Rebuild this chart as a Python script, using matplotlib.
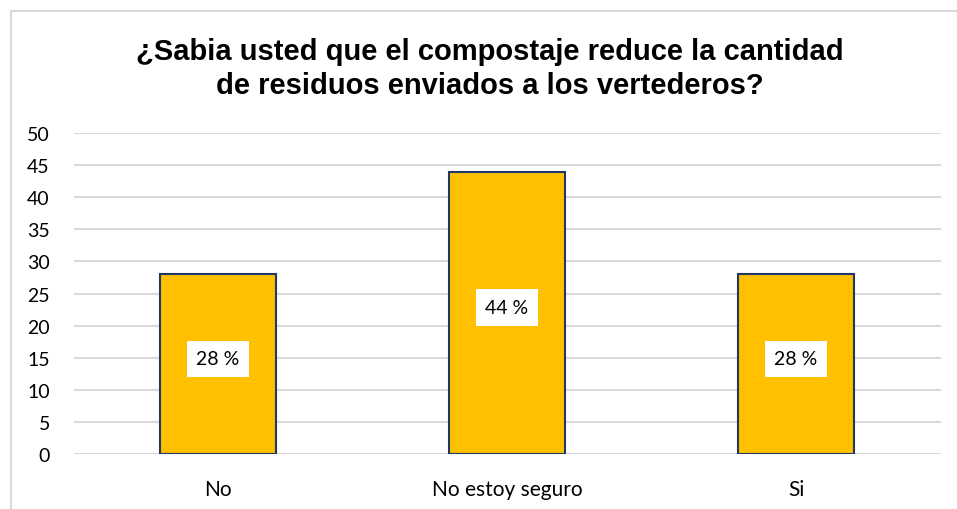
import matplotlib
matplotlib.use("Agg")
import matplotlib.pyplot as plt
from matplotlib.patches import Rectangle

categories = ["No", "No estoy seguro", "Si"]
values = [28, 44, 28]
labels = ["28 %", "44 %", "28 %"]
yticks = [0, 5, 10, 15, 20, 25, 30, 35, 40, 45, 50]
title = "¿Sabia usted que el compostaje reduce la cantidad\nde residuos enviados a los vertederos?"

fig = plt.figure(figsize=(9.57, 5.10), dpi=100)
fig.patches.append(Rectangle((11/957, -0.1), 1.2, 1 - 12/510 + 0.1, transform=fig.transFigure,
                             fill=False, edgecolor="#d9d9d9", linewidth=1.5))
ax = fig.add_axes([73.5/957, 1 - 455/510, (940.5-73.5)/957, (455-134)/510])

x = list(range(len(categories)))
ax.bar(x, values, width=0.40, color="#FFC000", edgecolor="#1F3864", linewidth=1.5, zorder=3)
for xi, v, lab in zip(x, values, labels):
    ax.text(xi, v/2 + 0.8, lab, ha="center", va="center", fontsize=14, family="Lato",
            zorder=4, bbox=dict(boxstyle="square,pad=0.5", facecolor="white", edgecolor="none"))

ax.set_xlim(-0.5, 2.5)
ax.set_ylim(0, 50)
ax.set_yticks(yticks)
ax.set_xticks(x)
ax.set_xticklabels(categories)
for lab in ax.get_yticklabels():
    lab.set_family("Lato")
    lab.set_fontsize(14)
for lab in ax.get_xticklabels():
    lab.set_family("Lato")
    lab.set_fontsize(15)
ax.tick_params(axis="y", length=0, pad=17)
ax.tick_params(axis="x", length=0, pad=18)
ax.grid(axis="y", color="#d9d9d9", linewidth=1.5, zorder=0)
for s in ax.spines.values():
    s.set_visible(False)

fig.text(490/957, 1 - 69/510, title, ha="center", va="center", fontsize=21,
         fontweight="bold", family="Liberation Sans", linespacing=1.3)

fig.savefig("out.png", dpi=100)
